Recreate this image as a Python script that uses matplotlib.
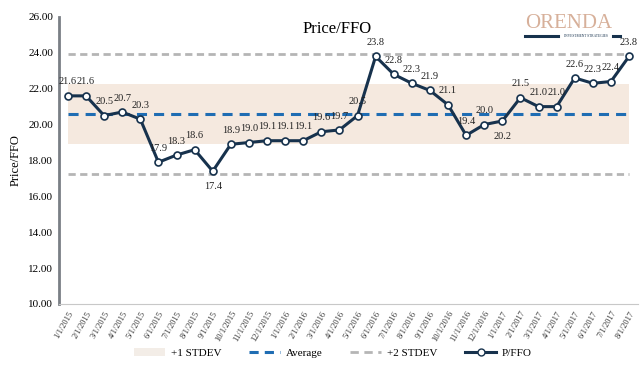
"""
Price/FFO chart with average and standard deviation bands.
"""

import matplotlib.pyplot as plt
from matplotlib.patches import Patch
from matplotlib.lines import Line2D

dates = ["1/1/2015", "2/1/2015", "3/1/2015", "4/1/2015", "5/1/2015", "6/1/2015",
         "7/1/2015", "8/1/2015", "9/1/2015", "10/1/2015", "11/1/2015", "12/1/2015",
         "1/1/2016", "2/1/2016", "3/1/2016", "4/1/2016", "5/1/2016", "6/1/2016",
         "7/1/2016", "8/1/2016", "9/1/2016", "10/1/2016", "11/1/2016", "12/1/2016",
         "1/1/2017", "2/1/2017", "3/1/2017", "4/1/2017", "5/1/2017", "6/1/2017",
         "7/1/2017", "8/1/2017"]
p_ffo = [21.6, 21.6, 20.5, 20.7, 20.3, 17.9, 18.3, 18.6, 17.4, 18.9, 19.0, 19.1,
         19.1, 19.1, 19.6, 19.7, 20.5, 23.8, 22.8, 22.3, 21.9, 21.1, 19.4, 20.0,
         20.2, 21.5, 21.0, 21.0, 22.6, 22.3, 22.4, 23.8]
average = 20.57
stdev1_low, stdev1_high = 18.9, 22.25
stdev2_low, stdev2_high = 17.22, 23.93

# labels drawn below the point
below = {8, 24}

serif = "Liberation Serif"
navy = "#17324d"

fig = plt.figure(figsize=(6.4, 3.68), dpi=100)
ax = fig.add_axes([0.092, 0.174, 0.905, 0.78])

x = list(range(len(dates)))

ax.fill_between([x[0], x[-1]], stdev1_low, stdev1_high, color="#f5e9df", lw=0, zorder=1)
ax.plot([x[0], x[-1]], [average, average], color="#1f6db3", lw=2.2,
        dashes=(3.3, 2.3), zorder=2)
for lvl in (stdev2_low, stdev2_high):
    ax.plot([x[0], x[-1]], [lvl, lvl], color="#b5b5b5", lw=2.0,
            dashes=(2.6, 1.6), zorder=2)
ax.plot(x, p_ffo, color=navy, lw=2.2, marker="o", ms=5, mfc="white",
        mec=navy, mew=1.2, zorder=3)

for i, v in enumerate(p_ffo):
    dy = -11 if i in below else 10
    ax.annotate(f"{v:.1f}", (i, v), xytext=(0, dy), textcoords="offset points",
                ha="center", va="center", fontsize=7.5, family=serif, color="#222222")

ax.set_xlim(-0.5, len(dates) - 0.5)
ax.set_ylim(10, 26)
ax.set_yticks([10, 12, 14, 16, 18, 20, 22, 24, 26])
ax.set_yticklabels([f"{t:.2f}" for t in ax.get_yticks()], family=serif, fontsize=8)
ax.set_xticks(x)
ax.set_xticklabels(dates, rotation=60, ha="right", rotation_mode="anchor",
                   family=serif, fontsize=6, color="#333333")
ax.tick_params(axis="both", length=0, pad=4)
ax.set_ylabel("Price/FFO", family=serif, fontsize=9, labelpad=5)

for side in ("top", "right"):
    ax.spines[side].set_visible(False)
ax.spines["left"].set_color("#7a7f85")
ax.spines["left"].set_linewidth(2)
ax.spines["bottom"].set_color("#c8c8c8")
ax.spines["bottom"].set_linewidth(0.8)

fig.text(0.527, 0.92, "Price/FFO", ha="center", va="center", family=serif, fontsize=12)

# logo
fig.text(0.888, 0.935, "ORENDA", ha="center", va="center", family=serif,
         fontsize=15, color="#d7b09a")
fig.add_artist(Line2D([0.82, 0.872], [0.902, 0.902], color=navy, lw=2.2))
fig.add_artist(Line2D([0.958, 0.968], [0.902, 0.902], color=navy, lw=2.2))
fig.text(0.915, 0.902, "INVESTMENT STRATEGIES", ha="center", va="center",
         family=serif, fontsize=2.6, color=navy)

handles = [
    Patch(facecolor="#f3ede7", edgecolor="none", label="+1 STDEV"),
    Line2D([], [], color="#1f6db3", lw=2.2, dashes=(3, 2), label="Average"),
    Line2D([], [], color="#b5b5b5", lw=2.0, dashes=(3, 2), label="+2 STDEV"),
    Line2D([], [], color=navy, lw=2.2, marker="o", ms=5, mfc="white", mec=navy,
           label="P/FFO"),
]
fig.legend(handles=handles, loc="center", bbox_to_anchor=(0.52, 0.04), ncol=4,
           frameon=False, prop={"family": serif, "size": 8}, handlelength=2.8,
           columnspacing=2.5, handletextpad=0.5)

plt.savefig("out.png", dpi=100)
